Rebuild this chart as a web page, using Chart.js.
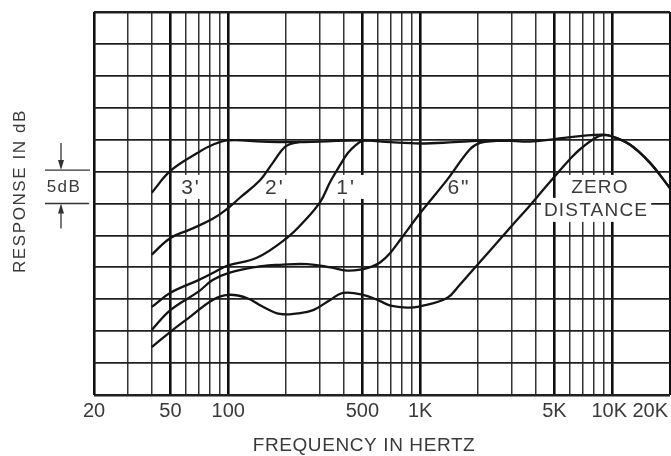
<!DOCTYPE html>
<html><head><meta charset="utf-8">
<script src="https://cdn.jsdelivr.net/npm/chart.js@4.4.1/dist/chart.umd.min.js"></script>
<style>html,body{margin:0;padding:0;background:#fff;}canvas{display:block;}</style>
</head><body>
<canvas id="c" width="671" height="456"></canvas>
<script>
// ---- data ----
const gridFreqs = [20,30,40,50,60,70,80,90,100,200,300,400,500,600,700,800,900,1000,2000,3000,4000,5000,6000,7000,8000,9000,10000,20000];
const majorFreqs = [20,50,100,500,1000,5000,10000,20000];
const tickLabels = {20:'20',50:'50',100:'100',500:'500',1000:'1K',5000:'5K',10000:'10K',20000:'20K'};
const dbMin = 0, dbMax = 60, dbStep = 5;

const freq3ft = [40,50,69,83,100,150,200,300,500,700,1000,1500,2000,3000,3700,5000,7000,9000,10000,12400,15700,20000];
const db3ft   = [31.7,35.1,37.9,39.2,39.9,39.7,39.6,39.7,39.9,39.6,39.4,39.6,39.8,39.8,39.7,40.1,40.6,40.8,40.5,39.2,36.4,32.4];

const freq2ft = [40,50,63,83,100,115,146,171,200,237];
const db2ft   = [22.0,24.6,25.9,27.6,29.3,30.9,33.6,36.4,39.0,39.7];

const freq1ft = [40,50,70,83,100,141,202,250,301,340,382,420,460,500,550];
const db1ft   = [13.8,16.0,18.0,19.1,20.3,21.5,24.6,27.3,30.2,33.4,36.0,37.9,39.1,39.8,39.9];

const freq6in = [40,50,70,83,100,150,186,258,340,416,500,560,620,700,800,1000,1380,1816,2050,2500];
const db6in   = [10.2,13.3,16.2,18.0,19.1,20.2,20.4,20.5,20.0,19.5,19.7,20.1,20.8,22.3,24.6,28.5,33.7,38.5,39.5,39.8];

const freqZero = [40,50,63,83,100,125,150,186,230,277,340,396,504,618,700,850,1000,1380,1600,1880,2400,3040,3730,4360,5040,6000,6800,8200,9000,10000,12400,15700,20000];
const dbZero   = [7.5,9.9,12.2,14.9,15.7,15.2,13.9,12.7,12.8,13.3,14.9,16.0,15.7,14.7,14.0,13.7,13.9,15.2,17.2,19.6,23.2,26.7,29.7,32.1,34.3,36.9,38.5,40.3,40.7,40.5,39.2,36.4,32.4];

const curveNames = ["3'", "2'", "1'", '6"', 'ZERO DISTANCE'];

// ---- styling / helpers ----
const INK = '#141414';
const TXT = '#3a3a3a';
const toPts = (fs, ds) => fs.map((f, i) => ({x: f, y: ds[i]}));
const series = [
  toPts(freq3ft, db3ft), toPts(freq2ft, db2ft), toPts(freq1ft, db1ft),
  toPts(freq6in, db6in), toPts(freqZero, dbZero)
];

// annotation anchors (in data units: Hz, dB)
const curveNotes = [
  {text:"3'", f:64, db:32.6, padX:5},
  {text:"2'", f:175, db:32.6, padX:7},
  {text:"1'", f:411, db:32.6, padX:9},
  {text:'6"', f:1592, db:32.6, padX:4},
  {text:'ZERO', f:8630, db:32.6, padX:5},
  {text:'DISTANCE', f:8240, db:29.0, padX:3}
];

function setLS(ctx, v){ if ('letterSpacing' in ctx) ctx.letterSpacing = v + 'px'; }

const annot = {
  id: 'annot',
  beforeDatasetsDraw(chart) {
    const {ctx, scales:{x, y}} = chart;
    ctx.save();
    ctx.textAlign = 'center';
    ctx.textBaseline = 'middle';
    curveNotes.forEach(n => {
      const isWord = n.text.length > 2;
      ctx.font = (isWord ? '19px' : '21px') + ' "Liberation Sans", Arial, sans-serif';
      setLS(ctx, isWord ? 1.2 : 2);
      const px = x.getPixelForValue(n.f), py = y.getPixelForValue(n.db);
      const w = ctx.measureText(n.text).width;
      ctx.fillStyle = '#fff';
      ctx.fillRect(px - w/2 - n.padX, py - 12, w + 2*n.padX, 24);
      ctx.fillStyle = TXT;
      ctx.fillText(n.text, px, py + 1);
    });
    ctx.restore();
  },
  afterDraw(chart) {
    const {ctx, scales:{x, y}, chartArea:a} = chart;
    ctx.save();
    ctx.fillStyle = TXT;
    // tick labels
    ctx.font = '20px "Liberation Sans", Arial, sans-serif';
    setLS(ctx, 0);
    ctx.textBaseline = 'middle';
    Object.keys(tickLabels).forEach(k => {
      const v = +k;
      let px = x.getPixelForValue(v);
      ctx.textAlign = 'center';
      if (v === 10000) px -= 3;
      if (v === 20000) { ctx.textAlign = 'right'; px = a.right - 2; }
      ctx.fillText(tickLabels[k], px, a.bottom + 16);
    });
    // x title
    ctx.font = '19px "Liberation Sans", Arial, sans-serif';
    setLS(ctx, 0.6);
    ctx.textAlign = 'center';
    ctx.fillText('FREQUENCY IN HERTZ', 364, a.bottom + 51);
    // y title
    ctx.save();
    ctx.translate(20, 191);
    ctx.rotate(-Math.PI/2);
    ctx.font = '17px "Liberation Sans", Arial, sans-serif';
    setLS(ctx, 1.6);
    ctx.fillText('RESPONSE IN dB', 0, 0);
    ctx.restore();
    // 5 dB scale marker
    const yA = y.getPixelForValue(35) - 1.5, yB = y.getPixelForValue(30);
    const ax = 61;
    ctx.strokeStyle = '#333';
    ctx.lineWidth = 1.3;
    ctx.beginPath();
    ctx.moveTo(45, yA); ctx.lineTo(a.left - 4, yA);
    ctx.moveTo(45, yB); ctx.lineTo(a.left - 5, yB);
    ctx.moveTo(ax, yA - 27); ctx.lineTo(ax, yA - 8);
    ctx.moveTo(ax, yB + 25); ctx.lineTo(ax, yB + 8);
    ctx.stroke();
    ctx.fillStyle = '#333';
    ctx.beginPath();
    ctx.moveTo(ax - 3, yA - 10); ctx.lineTo(ax + 3, yA - 10); ctx.lineTo(ax, yA); ctx.closePath();
    ctx.moveTo(ax - 3, yB + 10); ctx.lineTo(ax + 3, yB + 10); ctx.lineTo(ax, yB); ctx.closePath();
    ctx.fill();
    ctx.fillStyle = TXT;
    ctx.font = '17px "Liberation Sans", Arial, sans-serif';
    setLS(ctx, 1.5);
    ctx.textAlign = 'center';
    ctx.fillText('5dB', 64, (yA + yB)/2 + 1);
    ctx.restore();
  }
};

new Chart(document.getElementById('c'), {
  type: 'line',
  data: {
    datasets: series.map((pts, i) => ({
      label: curveNames[i],
      data: pts,
      borderColor: INK,
      borderWidth: 2.3,
      pointRadius: 0,
      fill: false,
      tension: 0.4
    }))
  },
  options: {
    responsive: false,
    animation: false,
    devicePixelRatio: 1,
    layout: { padding: { top: 12, right: 1, left: 0, bottom: 0 } },
    plugins: { legend: { display: false }, tooltip: { enabled: false } },
    scales: {
      x: {
        type: 'logarithmic', min: 20, max: 20000,
        afterBuildTicks: s => { s.ticks = gridFreqs.map(v => ({value: v})); },
        afterFit: s => { s.height = 61; },
        ticks: { display: false },
        border: { display: false },
        grid: {
          drawTicks: false,
          color: c => majorFreqs.includes(c.tick && c.tick.value) ? '#101010' : '#333333',
          lineWidth: c => majorFreqs.includes(c.tick && c.tick.value) ? 2.6 : 1.5
        }
      },
      y: {
        type: 'linear', min: dbMin, max: dbMax,
        ticks: { display: false, stepSize: dbStep },
        afterFit: s => { s.width = 94; },
        border: { display: false },
        grid: {
          drawTicks: false,
          color: '#202020',
          lineWidth: c => (c.tick && (c.tick.value === dbMin || c.tick.value === dbMax)) ? 2.6 : 1.8
        }
      }
    }
  },
  plugins: [annot]
});
</script>
</body></html>
